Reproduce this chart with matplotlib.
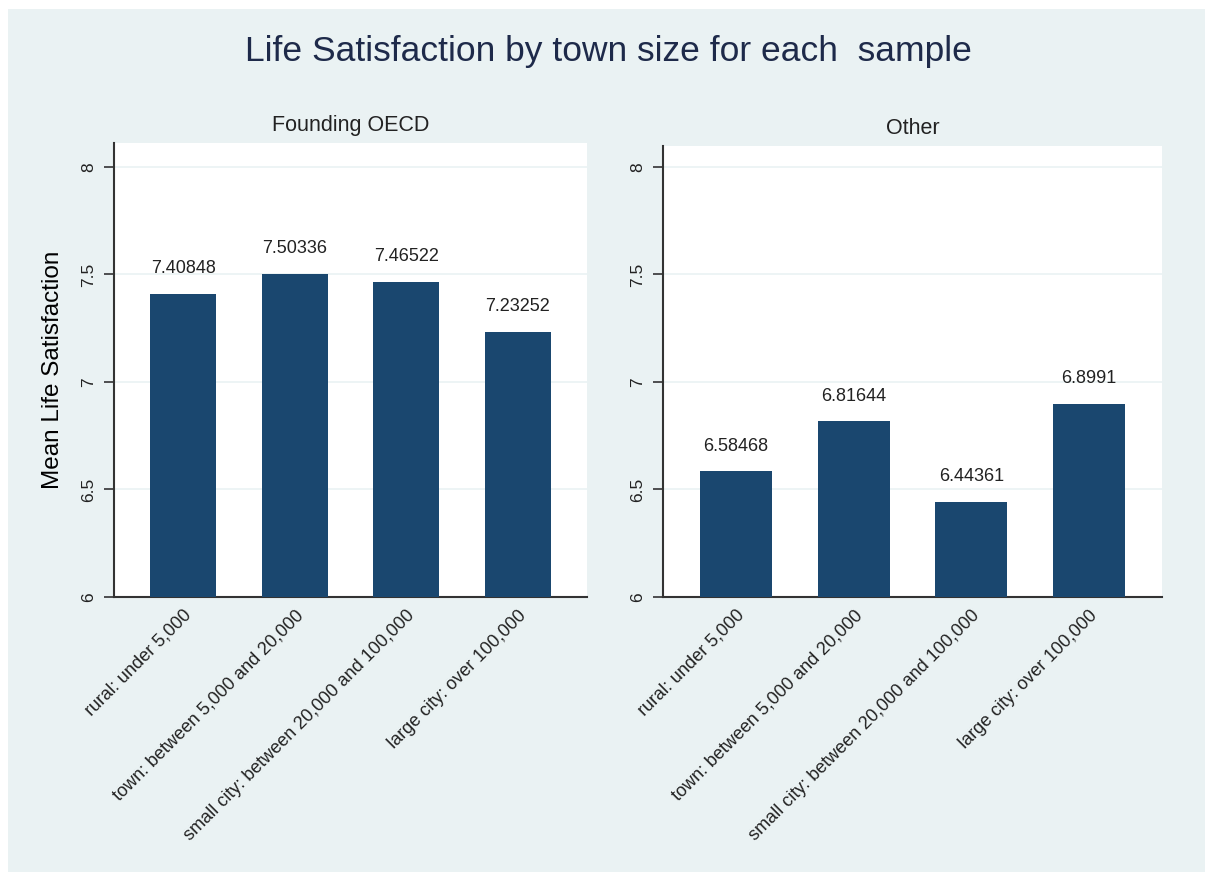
import matplotlib.pyplot as plt
from matplotlib.patches import Rectangle
import numpy as np

# town size categories and mean life satisfaction per sample
categories = ["rural: under 5,000", "town: between 5,000 and 20,000",
              "small city: between 20,000 and 100,000", "large city: over 100,000"]
oecd_values = [7.40848, 7.50336, 7.46522, 7.23252]
other_values = [6.58468, 6.81644, 6.44361, 6.8991]
panel_titles = ["Founding OECD", "Other"]
y_ticks = [6, 6.5, 7, 7.5, 8]

bg = '#EAF2F3'
bar_col = '#1A476F'
plt.rcParams['font.family'] = ['Liberation Sans', 'DejaVu Sans']

fig = plt.figure(figsize=(12.05, 8.76), dpi=100)
fig.patches.append(Rectangle((8/1205, 4/876), 1 - 8/1205, 1 - 13/876,
                             transform=fig.transFigure, facecolor=bg,
                             edgecolor='none', zorder=-10))

fig.text(608/1205, 1 - 51/876, "Life Satisfaction by town size for each  sample",
         ha='center', va='center', fontsize=25.5, color='#1e2a4a')

ax1 = fig.add_axes([114/1205, 279/876, 473/1205, 454/876])
ax2 = fig.add_axes([663/1205, 279/876, 499/1205, 451/876])

x = np.arange(len(categories))
for ax, vals, ttl, top, w in [(ax1, oecd_values, panel_titles[0], 8.111, 0.595),
                              (ax2, other_values, panel_titles[1], 8.097, 0.61)]:
    bars = ax.bar(x, vals, width=w, color=bar_col, zorder=3)
    ax.bar_label(bars, labels=[f"{v:g}" for v in vals], padding=12,
                 fontsize=13, color='#222222')
    ax.set_ylim(6, top)
    ax.set_xlim(-0.62, 3.62)
    ax.set_yticks(y_ticks)
    ax.set_yticklabels([f"{t:g}" for t in y_ticks], rotation=90, va='center',
                       fontsize=12.5, color='#222222')
    ax.set_xticks(x)
    ax.set_xticklabels(categories, rotation=45, ha='right', rotation_mode='anchor',
                       fontsize=13, color='#222222')
    ax.tick_params(axis='x', length=0, pad=7)
    ax.tick_params(axis='y', length=7, width=1.2, color='#333333', pad=6)
    ax.grid(axis='y', color=bg, linewidth=1.2, zorder=0)
    for s in ['top', 'right']:
        ax.spines[s].set_visible(False)
    for s in ['left', 'bottom']:
        ax.spines[s].set_color('#333333')
        ax.spines[s].set_linewidth(1.5)
    ax.set_title(ttl, fontsize=15.5, color='#222222', pad=9)

ax1.set_ylabel("Mean Life Satisfaction", fontsize=17.5, color='black', labelpad=12)

fig.savefig('out.png', dpi=100)
